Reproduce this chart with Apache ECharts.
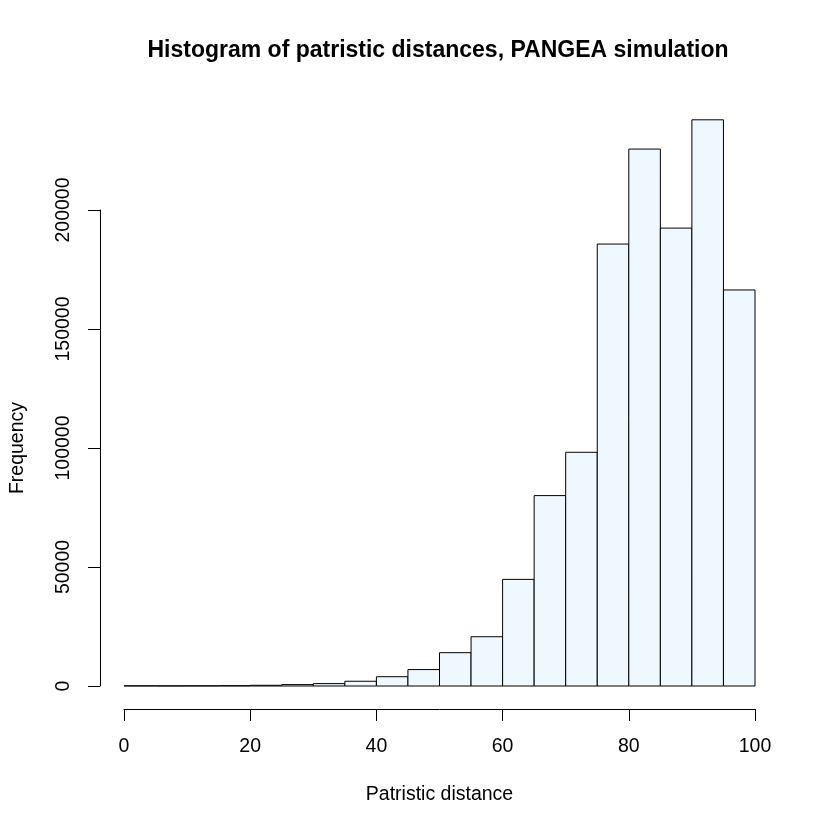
<!DOCTYPE html>
<html>
<head>
<meta charset="utf-8">
<script src="https://cdn.jsdelivr.net/npm/echarts@6/dist/echarts.min.js"></script>
<style>
  html, body { margin: 0; padding: 0; background: #fff; }
  #chart { width: 830px; height: 830px; }
</style>
</head>
<body>
<div id="chart"></div>
<script>
// histogram bins, width 5, from 0 to 100
const binStarts = [0, 5, 10, 15, 20, 25, 30, 35, 40, 45, 50, 55, 60, 65, 70, 75, 80, 85, 90, 95];
const binEnds = [5, 10, 15, 20, 25, 30, 35, 40, 45, 50, 55, 60, 65, 70, 75, 80, 85, 90, 95, 100];
const counts = [100, 60, 80, 150, 300, 600, 1000, 2000, 3900, 6900, 14000, 20700, 44800, 80000, 98200, 185700, 225600, 192400, 237900, 166400];

const xTicks = [0, 20, 40, 60, 80, 100];
const yTicks = [0, 50000, 100000, 150000, 200000];

const FONT = '"Liberation Sans", Arial, sans-serif';

const chart = echarts.init(document.getElementById('chart'));

const histData = binStarts.map((s, i) => [s, binEnds[i], counts[i]]);

chart.setOption({
  animation: false,
  backgroundColor: '#ffffff',
  title: {
    text: 'Histogram of patristic distances, PANGEA simulation',
    left: 433,
    top: 34,
    textAlign: 'center',
    textStyle: { fontFamily: FONT, fontSize: 23, fontWeight: 'bold', color: '#000' }
  },
  grid: { left: 122, right: 75, top: 210, bottom: 144 },
  xAxis: {
    type: 'value',
    min: xTicks[0],
    max: xTicks[xTicks.length - 1],
    interval: 20,
    offset: 23,
    name: 'Patristic distance',
    nameLocation: 'middle',
    nameGap: 76,
    nameTextStyle: { fontFamily: FONT, fontSize: 19.5, color: '#000' },
    axisLine: { show: true, onZero: false, lineStyle: { color: '#000', width: 1 } },
    axisTick: { show: true, length: 12, lineStyle: { color: '#000', width: 1 } },
    axisLabel: { fontFamily: FONT, fontSize: 19.5, color: '#000', margin: 28, formatter: v => String(v) },
    splitLine: { show: false }
  },
  yAxis: {
    type: 'value',
    min: yTicks[0],
    max: yTicks[yTicks.length - 1],
    interval: 50000,
    offset: 24,
    name: 'Frequency',
    nameLocation: 'middle',
    nameGap: 72,
    nameRotate: 90,
    nameTextStyle: { fontFamily: FONT, fontSize: 19.5, color: '#000' },
    axisLine: { show: true, onZero: false, lineStyle: { color: '#000', width: 1 } },
    axisTick: { show: true, length: 12, lineStyle: { color: '#000', width: 1 } },
    axisLabel: { fontFamily: FONT, fontSize: 19.5, color: '#000', rotate: 90, margin: 26, formatter: v => String(v) },
    splitLine: { show: false }
  },
  series: [{
    type: 'custom',
    clip: false,
    data: histData,
    encode: { x: [0, 1], y: 2 },
    renderItem: function (params, api) {
      const p0 = api.coord([api.value(0), api.value(2)]);
      const p1 = api.coord([api.value(1), 0]);
      return {
        type: 'rect',
        shape: { x: p0[0], y: p0[1], width: p1[0] - p0[0], height: p1[1] - p0[1] },
        style: { fill: '#F0F8FF', stroke: '#000', lineWidth: 1 }
      };
    }
  }]
});
</script>
</body>
</html>
